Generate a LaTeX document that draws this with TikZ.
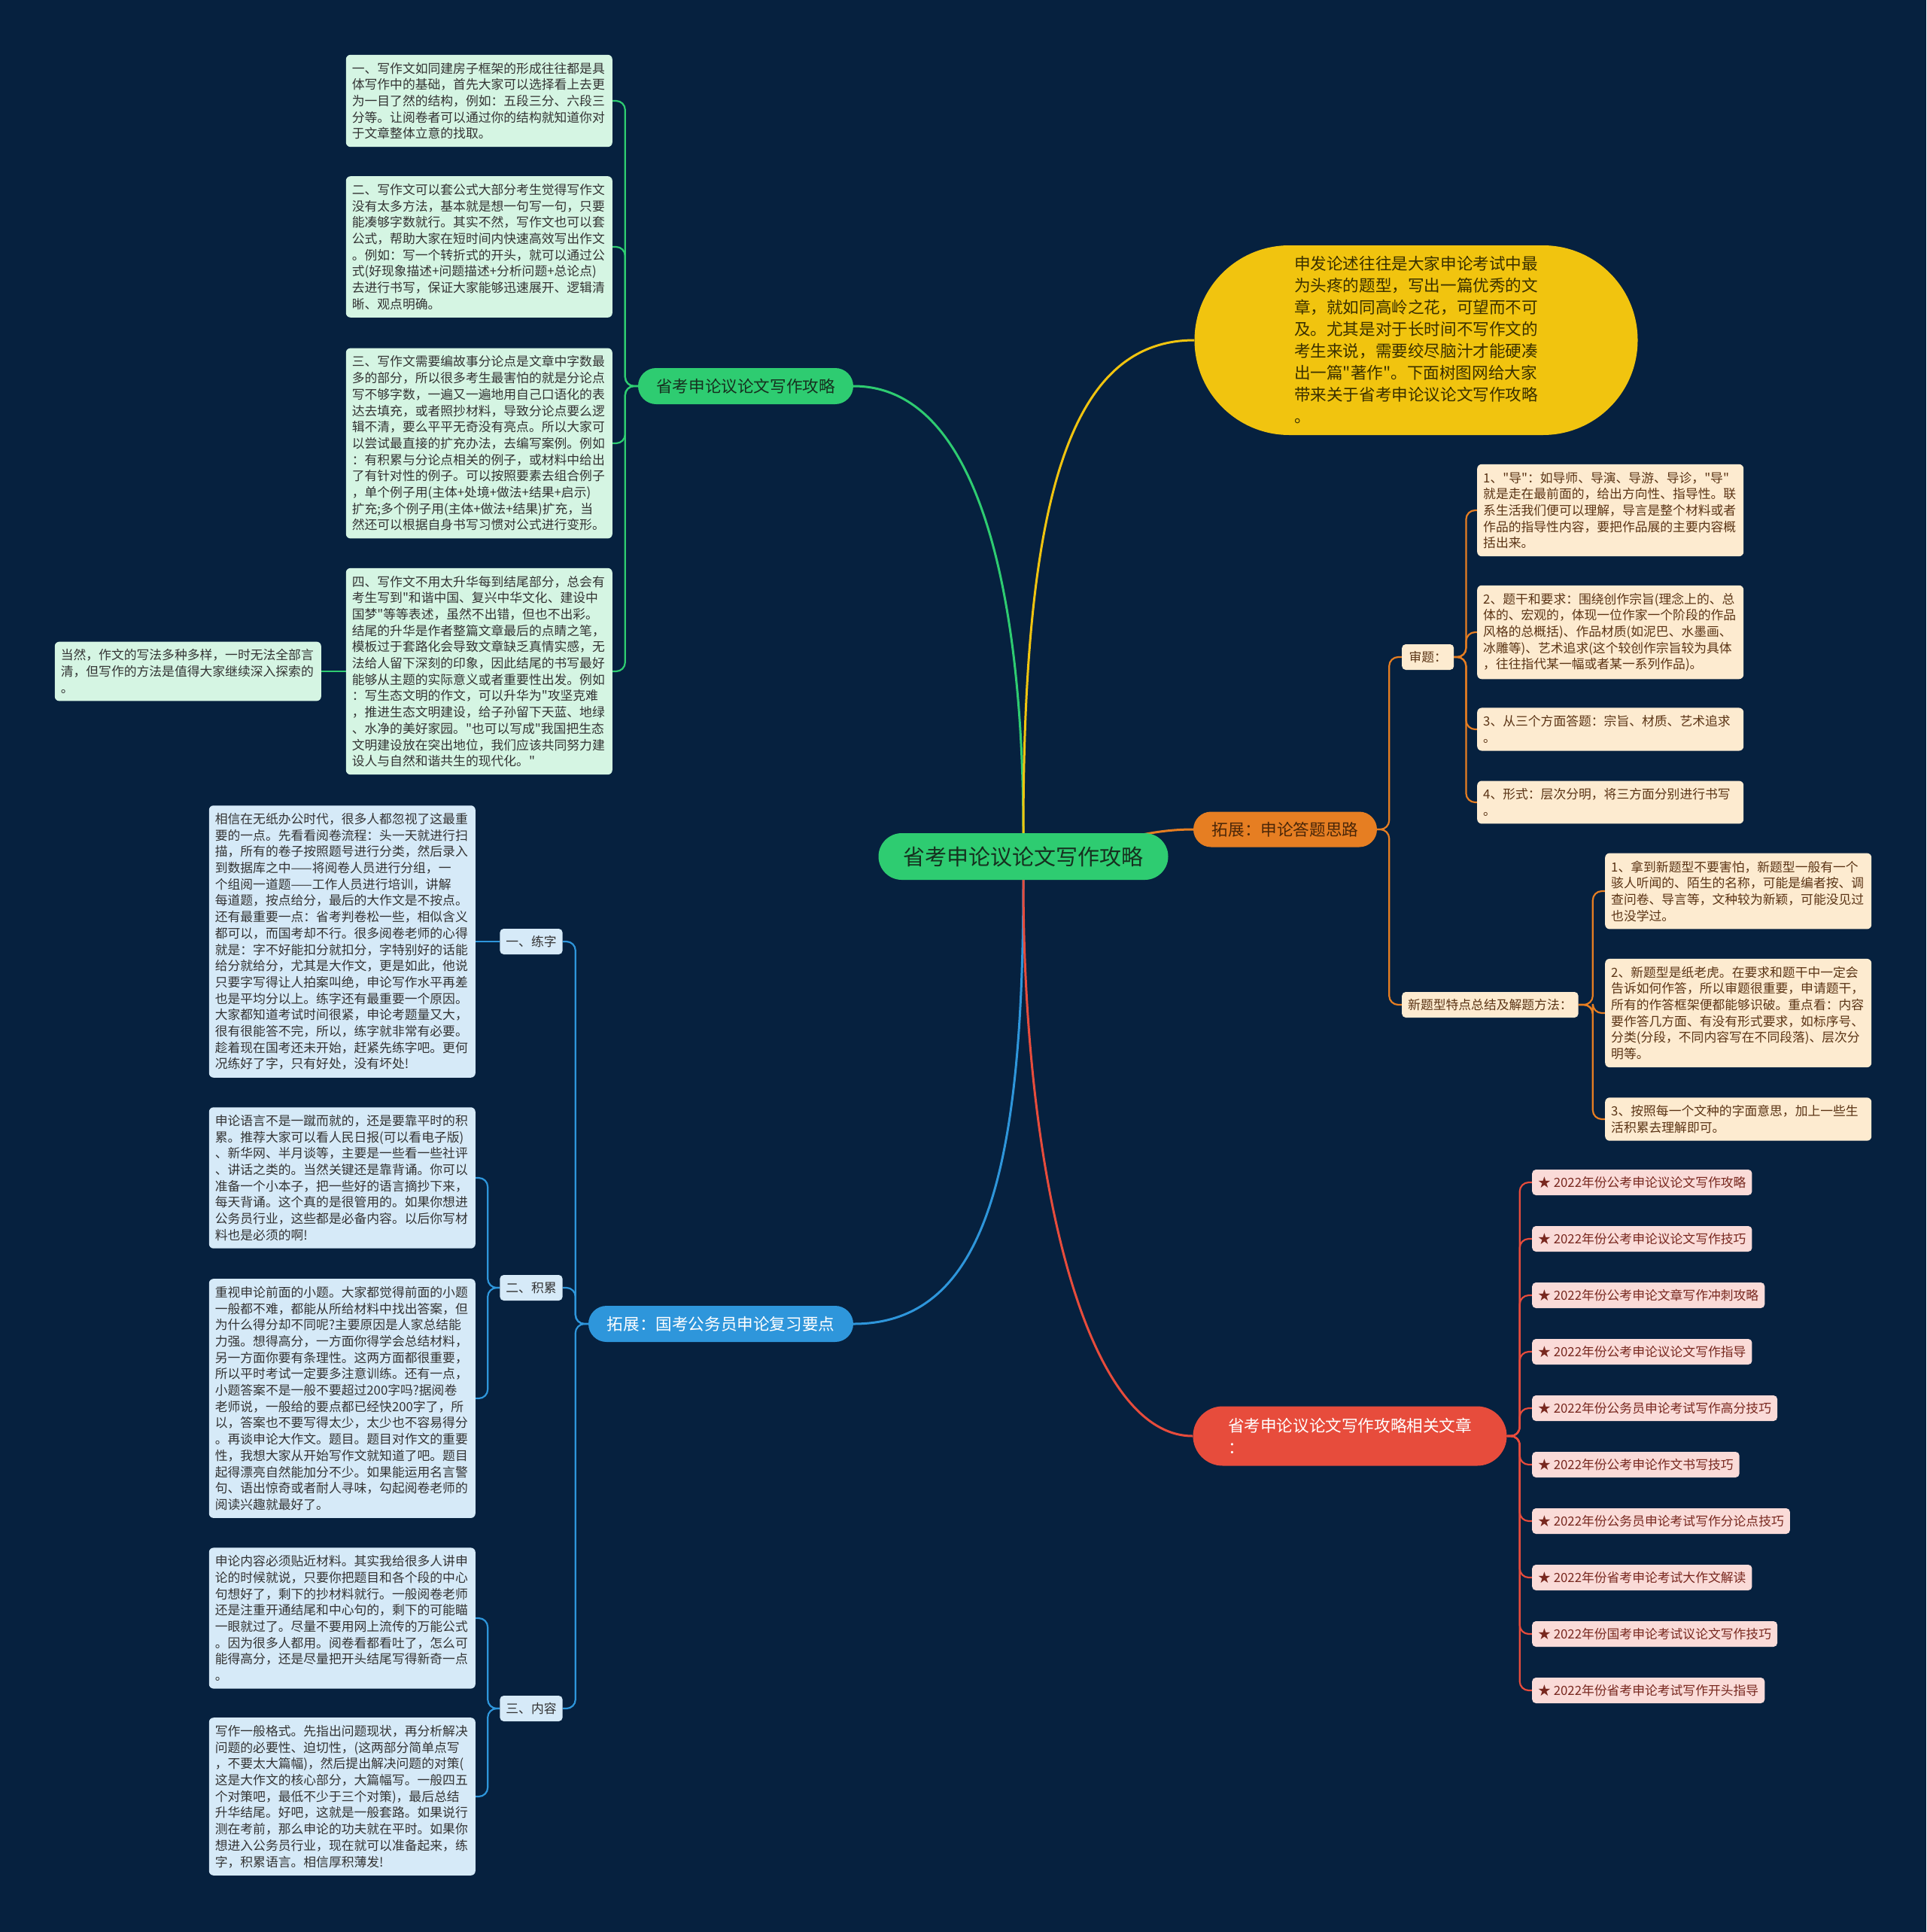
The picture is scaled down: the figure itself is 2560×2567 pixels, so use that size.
\documentclass[tikz,border=0pt]{standalone}
\usepackage{fontspec}
\newfontfamily\cjk{Noto Sans CJK SC}
\usepackage{tikz}
\usetikzlibrary{
  shapes.misc,
  calc
}
\usepackage{xcolor}
\definecolor{bgnavy}{HTML}{06213F}
\definecolor{cgreen}{HTML}{2ECC71}
\definecolor{cyellow}{HTML}{F1C40F}
\definecolor{corange}{HTML}{E67E22}
\definecolor{cblue}{HTML}{2E96DB}
\definecolor{cred}{HTML}{E74C3C}
\definecolor{gfill}{HTML}{D5F5E3}
\definecolor{bfill}{HTML}{D6EAF8}
\definecolor{ofill}{HTML}{FDEBD0}
\definecolor{rfill}{HTML}{FADBD8}
\definecolor{gtext}{HTML}{16301F}
\definecolor{ytext}{HTML}{3A3000}
\definecolor{obtext}{HTML}{4A2608}
\definecolor{dtext}{HTML}{333333}
\definecolor{otext}{HTML}{5B3415}
\definecolor{rtext}{HTML}{78281F}
\newcommand{\boxfont}{\cjk\fontsize{16.8}{21.7}\selectfont}
\newcommand{\brfont}{\cjk\fontsize{21.6}{29}\selectfont}
\newcommand{\rootfont}{\cjk\fontsize{29}{35}\selectfont}
\pgfdeclarelayer{bgl}
\pgfdeclarelayer{edges}
\pgfsetlayers{bgl,edges,main}

\begin{document}
\begin{tikzpicture}[
    x=1pt, y=-1pt,
    root/.style={rounded rectangle, fill=cgreen, text=gtext, font=\rootfont,
      minimum width=385pt, minimum height=62pt, inner xsep=0pt},
    br/.style={rounded rectangle, font=\brfont, minimum height=48pt, inner xsep=0pt},
    txt/.style={rounded corners=6pt, font=\boxfont, text width=338pt, align=left,
      inner xsep=8pt, inner ysep=10pt},
    lab/.style={rounded corners=5pt, font=\boxfont, minimum height=34pt,
      inner xsep=8pt, inner ysep=0pt},
    gbx/.style={txt, fill=gfill, text=dtext},
    bbx/.style={txt, fill=bfill, text=dtext},
    obx/.style={txt, fill=ofill, text=otext},
    rit/.style={lab, fill=rfill, text=rtext},
    me/.style={line width=3pt},
    ge/.style={line width=2.2pt, rounded corners=12pt}
  ]
  \begin{pgfonlayer}{bgl}
    \fill[bgnavy] (0,0) rectangle (2560,2567);
  \end{pgfonlayer}

  \node[root] (root) at (1360,1138) {省考申论议论文写作攻略};
  \node[br, fill=cgreen, text=gtext, minimum width=286pt] (gb) at (991,513) {省考申论议论文写作攻略};
  \node[br, fill=cyellow, text=ytext, minimum width=589pt, minimum height=252pt, align=left] (yb) at (1882,452)
    {申发论述往往是大家申论考试中最\\
     为头疼的题型，写出一篇优秀的文\\
     章，就如同高岭之花，可望而不可\\
     及。尤其是对于长时间不写作文的\\
     考生来说，需要绞尽脑汁才能硬凑\\
     出一篇"著作"。下面树图网给大家\\
     带来关于省考申论议论文写作攻略\\
     。};
  \node[br, fill=corange, text=obtext, minimum width=244pt, minimum height=47pt] (ob) at (1708,1102) {拓展：申论答题思路};
  \node[br, fill=cblue, text=white, minimum width=352pt] (bb) at (958,1759) {拓展：国考公务员申论复习要点};
  \node[br, fill=cred, text=white, minimum width=417pt, minimum height=79pt, align=left] (rb) at (1794,1908)
    {省考申论议论文写作攻略相关文章\\：};

  \node[gbx, anchor=east] (g1) at (814,134)
    {一、写作文如同建房子框架的形成往往都是具\\
     体写作中的基础，首先大家可以选择看上去更\\
     为一目了然的结构，例如：五段三分、六段三\\
     分等。让阅卷者可以通过你的结构就知道你对\\
     于文章整体立意的找取。};
  \node[gbx, anchor=east] (g2) at (814,328)
    {二、写作文可以套公式大部分考生觉得写作文\\
     没有太多方法，基本就是想一句写一句，只要\\
     能凑够字数就行。其实不然，写作文也可以套\\
     公式，帮助大家在短时间内快速高效写出作文\\
     。例如：写一个转折式的开头，就可以通过公\\
     式(好现象描述+问题描述+分析问题+总论点)\\
     去进行书写，保证大家能够迅速展开、逻辑清\\
     晰、观点明确。};
  \node[gbx, anchor=east] (g3) at (814,589)
    {三、写作文需要编故事分论点是文章中字数最\\
     多的部分，所以很多考生最害怕的就是分论点\\
     写不够字数，一遍又一遍地用自己口语化的表\\
     达去填充，或者照抄材料，导致分论点要么逻\\
     辑不清，要么平平无奇没有亮点。所以大家可\\
     以尝试最直接的扩充办法，去编写案例。例如\\
     ：有积累与分论点相关的例子，或材料中给出\\
     了有针对性的例子。可以按照要素去组合例子\\
     ，单个例子用(主体+处境+做法+结果+启示)\\
     扩充;多个例子用(主体+做法+结果)扩充，当\\
     然还可以根据自身书写习惯对公式进行变形。};
  \node[gbx, anchor=east] (g4) at (814,892)
    {四、写作文不用太升华每到结尾部分，总会有\\
     考生写到"和谐中国、复兴中华文化、建设中\\
     国梦"等等表述，虽然不出错，但也不出彩。\\
     结尾的升华是作者整篇文章最后的点睛之笔，\\
     模板过于套路化会导致文章缺乏真情实感，无\\
     法给人留下深刻的印象，因此结尾的书写最好\\
     能够从主题的实际意义或者重要性出发。例如\\
     ：写生态文明的作文，可以升华为"攻坚克难\\
     ，推进生态文明建设，给子孙留下天蓝、地绿\\
     、水净的美好家园。"也可以写成"我国把生态\\
     文明建设放在突出地位，我们应该共同努力建\\
     设人与自然和谐共生的现代化。"};
  \node[gbx, anchor=east] (g5) at (427,892)
    {当然，作文的写法多种多样，一时无法全部言\\
     清，但写作的方法是值得大家继续深入探索的\\
     。};

  \node[lab, fill=bfill, text=dtext, minimum width=83pt] (l1) at (706,1251) {一、练字};
  \node[lab, fill=bfill, text=dtext, minimum width=83pt] (l2) at (706,1711) {二、积累};
  \node[lab, fill=bfill, text=dtext, minimum width=83pt] (l3) at (706,2270) {三、内容};
  \node[bbx, anchor=east] (b1) at (632,1251)
    {相信在无纸办公时代，很多人都忽视了这最重\\
     要的一点。先看看阅卷流程：头一天就进行扫\\
     描，所有的卷子按照题号进行分类，然后录入\\
     到数据库之中——将阅卷人员进行分组，一\\
     个组阅一道题——工作人员进行培训，讲解\\
     每道题，按点给分，最后的大作文是不按点。\\
     还有最重要一点：省考判卷松一些，相似含义\\
     都可以，而国考却不行。很多阅卷老师的心得\\
     就是：字不好能扣分就扣分，字特别好的话能\\
     给分就给分，尤其是大作文，更是如此，他说\\
     只要字写得让人拍案叫绝，申论写作水平再差\\
     也是平均分以上。练字还有最重要一个原因。\\
     大家都知道考试时间很紧，申论考题量又大，\\
     很有很能答不完，所以，练字就非常有必要。\\
     趁着现在国考还未开始，赶紧先练字吧。更何\\
     况练好了字，只有好处，没有坏处!};
  \node[bbx, anchor=east] (b2) at (632,1565)
    {申论语言不是一蹴而就的，还是要靠平时的积\\
     累。推荐大家可以看人民日报(可以看电子版)\\
     、新华网、半月谈等，主要是一些看一些社评\\
     、讲话之类的。当然关键还是靠背诵。你可以\\
     准备一个小本子，把一些好的语言摘抄下来，\\
     每天背诵。这个真的是很管用的。如果你想进\\
     公务员行业，这些都是必备内容。以后你写材\\
     料也是必须的啊!};
  \node[bbx, anchor=east] (b3) at (632,1858)
    {重视申论前面的小题。大家都觉得前面的小题\\
     一般都不难，都能从所给材料中找出答案，但\\
     为什么得分却不同呢?主要原因是人家总结能\\
     力强。想得高分，一方面你得学会总结材料，\\
     另一方面你要有条理性。这两方面都很重要，\\
     所以平时考试一定要多注意训练。还有一点，\\
     小题答案不是一般不要超过200字吗?据阅卷\\
     老师说，一般给的要点都已经快200字了，所\\
     以，答案也不要写得太少，太少也不容易得分\\
     。再谈申论大作文。题目。题目对作文的重要\\
     性，我想大家从开始写作文就知道了吧。题目\\
     起得漂亮自然能加分不少。如果能运用名言警\\
     句、语出惊奇或者耐人寻味，勾起阅卷老师的\\
     阅读兴趣就最好了。};
  \node[bbx, anchor=east] (b4) at (632,2150)
    {申论内容必须贴近材料。其实我给很多人讲申\\
     论的时候就说，只要你把题目和各个段的中心\\
     句想好了，剩下的抄材料就行。一般阅卷老师\\
     还是注重开通结尾和中心句的，剩下的可能瞄\\
     一眼就过了。尽量不要用网上流传的万能公式\\
     。因为很多人都用。阅卷看都看吐了，怎么可\\
     能得高分，还是尽量把开头结尾写得新奇一点\\
     。};
  \node[bbx, anchor=east] (b5) at (632,2387)
    {写作一般格式。先指出问题现状，再分析解决\\
     问题的必要性、迫切性，(这两部分简单点写\\
     ，不要太大篇幅)，然后提出解决问题的对策(\\
     这是大作文的核心部分，大篇幅写。一般四五\\
     个对策吧，最低不少于三个对策)，最后总结\\
     升华结尾。好吧，这就是一般套路。如果说行\\
     测在考前，那么申论的功夫就在平时。如果你\\
     想进入公务员行业，现在就可以准备起来，练\\
     字，积累语言。相信厚积薄发!};

  \node[lab, fill=ofill, text=otext, anchor=west, minimum width=69pt] (s1) at (1863,873) {审题：};
  \node[lab, fill=ofill, text=otext, anchor=west] (s2) at (1863,1335) {新题型特点总结及解题方法：};
  \node[obx, anchor=west] (o1) at (1963,678)
    {1、"导"：如导师、导演、导游、导诊，"导"\\
     就是走在最前面的，给出方向性、指导性。联\\
     系生活我们便可以理解，导言是整个材料或者\\
     作品的指导性内容，要把作品展的主要内容概\\
     括出来。};
  \node[obx, anchor=west] (o2) at (1963,840)
    {2、题干和要求：围绕创作宗旨(理念上的、总\\
     体的、宏观的，体现一位作家一个阶段的作品\\
     风格的总概括)、作品材质(如泥巴、水墨画、\\
     冰雕等)、艺术追求(这个较创作宗旨较为具体\\
     ，往往指代某一幅或者某一系列作品)。};
  \node[obx, anchor=west] (o3) at (1963,969)
    {3、从三个方面答题：宗旨、材质、艺术追求\\
     。};
  \node[obx, anchor=west] (o4) at (1963,1066)
    {4、形式：层次分明，将三方面分别进行书写\\
     。};
  \node[obx, anchor=west] (n1) at (2133,1184)
    {1、拿到新题型不要害怕，新题型一般有一个\\
     骇人听闻的、陌生的名称，可能是编者按、调\\
     查问卷、导言等，文种较为新颖，可能没见过\\
     也没学过。};
  \node[obx, anchor=west] (n2) at (2133,1346)
    {2、新题型是纸老虎。在要求和题干中一定会\\
     告诉如何作答，所以审题很重要，申请题干，\\
     所有的作答框架便都能够识破。重点看：内容\\
     要作答几方面、有没有形式要求，如标序号、\\
     分类(分段，不同内容写在不同段落)、层次分\\
     明等。};
  \node[obx, anchor=west] (n3) at (2133,1487)
    {3、按照每一个文种的字面意思，加上一些生\\
     活积累去理解即可。};

  \node[rit, anchor=west] (r1) at (2036,1571) {★ 2022年份公考申论议论文写作攻略};
  \node[rit, anchor=west] (r2) at (2036,1646) {★ 2022年份公考申论议论文写作技巧};
  \node[rit, anchor=west] (r3) at (2036,1721) {★ 2022年份公考申论文章写作冲刺攻略};
  \node[rit, anchor=west] (r4) at (2036,1796) {★ 2022年份公考申论议论文写作指导};
  \node[rit, anchor=west] (r5) at (2036,1871) {★ 2022年份公务员申论考试写作高分技巧};
  \node[rit, anchor=west] (r6) at (2036,1946) {★ 2022年份公考申论作文书写技巧};
  \node[rit, anchor=west] (r7) at (2036,2021) {★ 2022年份公务员申论考试写作分论点技巧};
  \node[rit, anchor=west] (r8) at (2036,2096) {★ 2022年份省考申论考试大作文解读};
  \node[rit, anchor=west] (r9) at (2036,2171) {★ 2022年份国考申论考试议论文写作技巧};
  \node[rit, anchor=west] (r10) at (2036,2246) {★ 2022年份省考申论考试写作开头指导};

  \begin{pgfonlayer}{edges}
    \draw[me, cgreen] (root.north) .. controls (1360,818) and (1310,513) .. (gb.east);
    \draw[me, cyellow] (root.north) .. controls (1360,655) and (1424,452) .. (yb.west);
    \draw[me, corange] (root.center) to[out=0,in=180] (ob.west);
    \draw[me, cblue] (root.south) .. controls (1360,1555) and (1310,1759) .. (bb.east);
    \draw[me, cred] (root.south) .. controls (1360,1555) and (1440,1908) .. (rb.west);

    \draw[ge, cgreen] (gb.west) -- ++(-17,0) |- (g1.east);
    \draw[ge, cgreen] (gb.west) -- ++(-17,0) |- (g2.east);
    \draw[ge, cgreen] (gb.west) -- ++(-17,0) |- (g3.east);
    \draw[ge, cgreen] (gb.west) -- ++(-17,0) |- (g4.east);
    \draw[ge, cgreen] (g4.west) -- (g5.east);

    \draw[ge, cblue] (bb.west) -- ++(-17,0) |- (l1.east);
    \draw[ge, cblue] (bb.west) -- ++(-17,0) |- (l2.east);
    \draw[ge, cblue] (bb.west) -- ++(-17,0) |- (l3.east);
    \draw[ge, cblue] (l1.west) -- (b1.east);
    \draw[ge, cblue] (l2.west) -- ++(-16,0) |- (b2.east);
    \draw[ge, cblue] (l2.west) -- ++(-16,0) |- (b3.east);
    \draw[ge, cblue] (l3.west) -- ++(-16,0) |- (b4.east);
    \draw[ge, cblue] (l3.west) -- ++(-16,0) |- (b5.east);

    \draw[ge, corange] (ob.east) -- ++(16,0) |- (s1.west);
    \draw[ge, corange] (ob.east) -- ++(16,0) |- (s2.west);
    \draw[ge, corange] (s1.east) -- ++(16,0) |- (o1.west);
    \draw[ge, corange] (s1.east) -- ++(16,0) |- (o2.west);
    \draw[ge, corange] (s1.east) -- ++(16,0) |- (o3.west);
    \draw[ge, corange] (s1.east) -- ++(16,0) |- (o4.west);
    \draw[ge, corange] (s2.east) -- ++(19,0) |- (n1.west);
    \draw[ge, corange] (s2.east) -- ++(19,0) |- (n2.west);
    \draw[ge, corange] (s2.east) -- ++(19,0) |- (n3.west);

    \draw[ge, cred] (rb.east) -- ++(17,0) |- (r1.west);
    \draw[ge, cred] (rb.east) -- ++(17,0) |- (r2.west);
    \draw[ge, cred] (rb.east) -- ++(17,0) |- (r3.west);
    \draw[ge, cred] (rb.east) -- ++(17,0) |- (r4.west);
    \draw[ge, cred] (rb.east) -- ++(17,0) |- (r5.west);
    \draw[ge, cred] (rb.east) -- ++(17,0) |- (r6.west);
    \draw[ge, cred] (rb.east) -- ++(17,0) |- (r7.west);
    \draw[ge, cred] (rb.east) -- ++(17,0) |- (r8.west);
    \draw[ge, cred] (rb.east) -- ++(17,0) |- (r9.west);
    \draw[ge, cred] (rb.east) -- ++(17,0) |- (r10.west);
  \end{pgfonlayer}
\end{tikzpicture}
\end{document}
